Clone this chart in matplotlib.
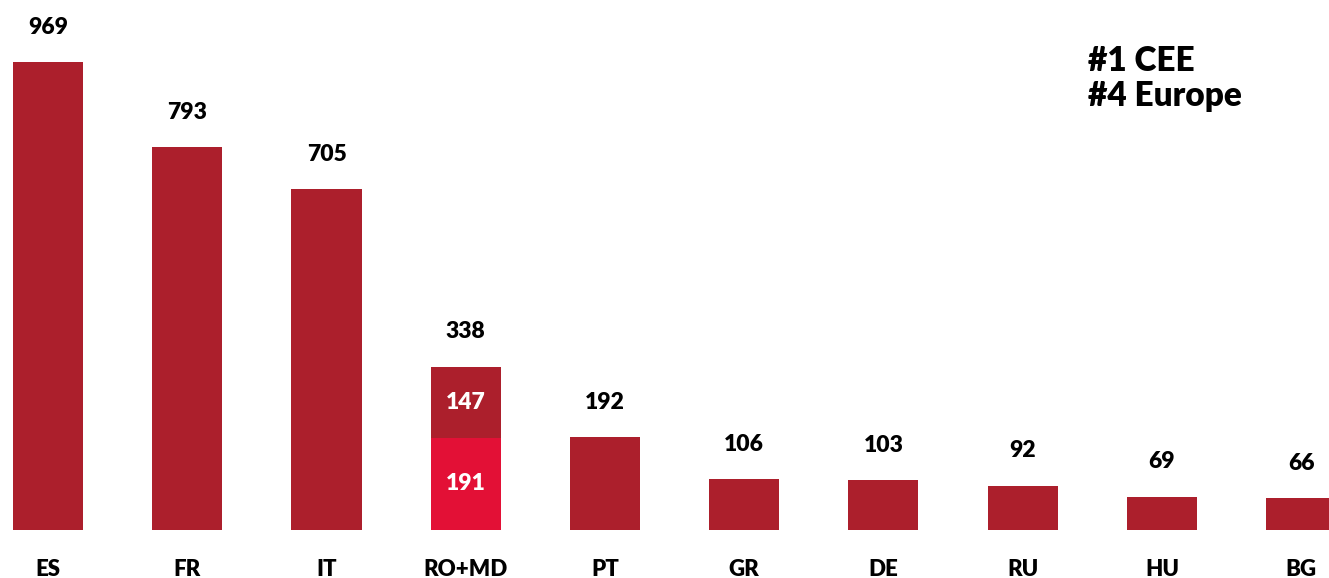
import matplotlib.pyplot as plt
import numpy as np

# --- DATA ---
countries = ["ES", "FR", "IT", "RO+MD", "PT", "GR", "DE", "RU", "HU", "BG"]
totals = [969, 793, 705, 338, 192, 106, 103, 92, 69, 66]
# RO+MD split: RO (bottom) and MD (top)
ro_value = 191
md_value = 147

DARK_RED = "#AC1F2C"
BRIGHT_RED = "#E31036"
W = "heavy"

plt.rcParams["font.family"] = ["Lato", "DejaVu Sans"]

fig = plt.figure(figsize=(13.29, 5.78), dpi=100)
ax = fig.add_axes([0, 48 / 578, 1, 530 / 578])

x = np.arange(len(countries))
ro_idx = countries.index("RO+MD")

# plain bars for everything except the stacked one
heights = [0 if i == ro_idx else v for i, v in enumerate(totals)]
ax.bar(x, heights, width=0.503, color=DARK_RED)

# stacked RO+MD bar
ax.bar(ro_idx, ro_value, width=0.503, color=BRIGHT_RED)
ax.bar(ro_idx, md_value, bottom=ro_value, width=0.503, color=DARK_RED)

ax.text(ro_idx, ro_value / 2, str(ro_value), ha="center", va="center",
        color="white", fontsize=16.5, fontweight=W)
ax.text(ro_idx, ro_value + md_value / 2, str(md_value), ha="center", va="center",
        color="white", fontsize=16.5, fontweight=W)

# value labels on top
for xi, v in zip(x, totals):
    ax.annotate(str(v), (xi, v), xytext=(0, 25), textcoords="offset points",
                ha="center", va="center", fontsize=16.5, fontweight=W)

ax.set_xlim(-0.345, 9.2)
ax.set_ylim(0, 1097)
ax.set_xticks(x)
ax.set_xticklabels(countries, fontsize=16, fontweight=W)
ax.tick_params(axis="x", length=0, pad=21)
ax.set_yticks([])
for s in ax.spines.values():
    s.set_visible(False)

fig.text(1088 / 1329, 1 - 61 / 578, "#1 CEE", fontsize=24, fontweight=W,
         va="center", ha="left")
fig.text(1088 / 1329, 1 - 96 / 578, "#4 Europe", fontsize=24, fontweight=W,
         va="center", ha="left")

fig.savefig("out.png", dpi=100)
